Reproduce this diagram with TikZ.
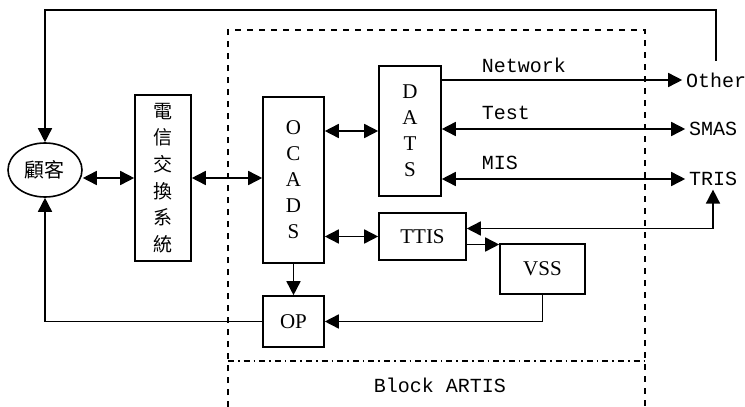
\documentclass[tikz,border=0pt]{standalone}
\usepackage{fontspec}
\setmainfont{Liberation Serif}
\setmonofont{Liberation Mono}
\newfontfamily\cjk{Noto Sans CJK TC}
\usetikzlibrary{positioning,arrows.meta,shapes.geometric}

\begin{document}
\begin{tikzpicture}[x=0.5pt,y=-0.5pt,line width=0.8pt,
	box/.style={draw=black,inner sep=0pt,align=center,font=\fontsize{10.5}{13}\selectfont},
	lbl/.style={inner sep=1.5pt,font=\ttfamily\fontsize{10}{11}\selectfont},
	arr/.style={-{Triangle[length=7pt,width=7pt]}},
	dbl/.style={{Triangle[length=7pt,width=7pt]}-{Triangle[length=7pt,width=7pt]}}]
		\useasboundingbox (0,0) rectangle (745,407);

		%left nodes
		\node[draw=black,ellipse,inner sep=0pt,minimum width=37pt,minimum height=27pt,font=\cjk\fontsize{10}{10}\selectfont] (cust) at (45,170) {顧客};
		\node[box,minimum width=28pt,minimum height=83pt,font=\cjk\fontsize{9.5}{13.3}\selectfont] (sw) at (163,178) {電\\信\\交\\換\\系\\統};

		%block nodes
		\node[box,minimum width=30.5pt,minimum height=83pt] (ocads) at (293.5,180) {O\\C\\A\\D\\S};
		\node[box,minimum width=31pt,minimum height=65pt] (dats) at (410,131) {D\\A\\T\\S};
		\node[box,minimum width=43.5pt,minimum height=23.5pt] (ttis) at (422.5,236.5) {TTIS};
		\node[box,minimum width=42.5pt,minimum height=25pt] (vss) at (542.5,269) {VSS};
		\node[box,minimum width=30.5pt,minimum height=25.5pt] (op) at (293.5,321.5) {OP};

		%right nodes
		\node[lbl] (other) at (716,80) {Other};
		\node[lbl] (smas) at (713,129) {SMAS};
		\node[lbl] (tris) at (713,179) {TRIS};

		%labels
		\node[lbl,anchor=west] (net) at (478,65) {Network};
		\node[lbl,anchor=west] (test) at (478,113) {Test};
		\node[lbl,anchor=west] (mis) at (478,163) {MIS};
		\node[lbl,anchor=west] (block) at (370,385) {Block ARTIS};
		\coordinate (top) at (380,10);

		%block frame
		\draw[dashed,line width=0.6pt] (228,407) |- (645,30) -- (645,407);
		\draw[dash dot,line width=0.6pt] (228,361) -- (645,361);

		%edges
		\draw[dbl] (cust.east |- sw.west) -- (sw.west);
		\draw[dbl] (sw.east) -- (sw.east -| ocads.west);
		\draw[dbl] (dats.west -| ocads.east) -- (dats.west);
		\draw[dbl] (ttis.west -| ocads.east) -- (ttis.west);
		\draw[arr] (ocads.south) -- (op.north);
		\draw[arr] ([yshift=-4pt]ttis.east) -- ([yshift=-4pt]ttis.east -| vss.west);
		\draw[arr] (vss.south) |- (op.east);
		\draw[arr] (op.west) -| (cust.south);
		\draw[arr] ([yshift=4pt]other.north) |- (top) -| (cust.north);
		\draw[arr] (dats.east |- other.west) -- (other.west);
		\draw[dbl] (dats.east |- smas.west) -- (smas.west);
		\draw[dbl] (dats.east |- tris.west) -- (tris.west);
		\draw[dbl] ([yshift=4pt]ttis.east) -| (tris.south);
	\end{tikzpicture}
\end{document}
